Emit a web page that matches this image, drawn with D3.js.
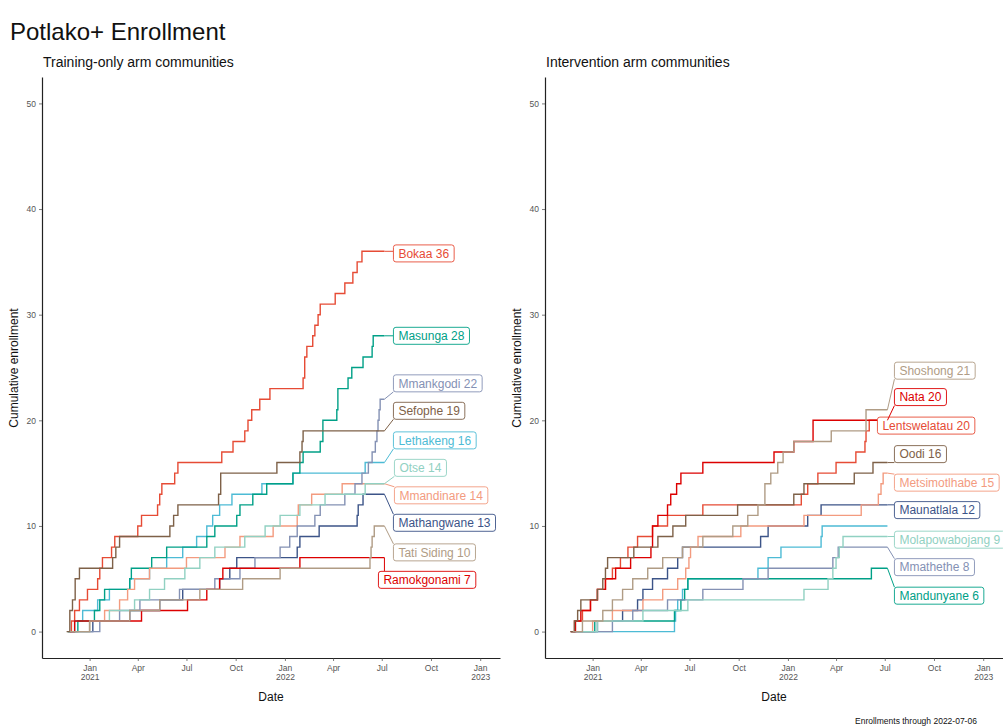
<!DOCTYPE html>
<html><head><meta charset="utf-8">
<script src="https://cdn.jsdelivr.net/npm/d3@7"></script>
<style>
body{margin:0;background:#fff;}
svg{display:block;font-family:"Liberation Sans",Arial,Helvetica,sans-serif;}
</style>
</head><body>
<svg id="chart" width="1003" height="727"></svg>
<script>
// ---------------- DATA ----------------
const dataEnd = "2022-07-06";
const npgPalette = ["#E64B35","#4DBBD5","#00A087","#3C5488","#F39B7F","#8491B4","#91D1C2","#DC0000","#7E6148","#B09C85"];
const yTicks = [0,10,20,30,40,50];
const xTicks = ["2021-01-01","2021-04-01","2021-07-01","2021-10-01","2022-01-01","2022-04-01","2022-07-01","2022-10-01","2023-01-01"];
const xTickLabels = [["Jan","2021"],["Apr"],["Jul"],["Oct"],["Jan","2022"],["Apr"],["Jul"],["Oct"],["Jan","2023"]];

// Training-only arm: [date, cumulative enrollment]
const trainingNames = ["Bokaa","Lethakeng","Masunga","Mathangwane","Mmandinare","Mmankgodi","Otse","Ramokgonami","Sefophe","Tati Siding"];
const bokaa = [["2020-11-21",0],["2020-11-28",1],["2020-12-04",2],["2020-12-13",3],["2020-12-28",4],["2021-01-16",5],["2021-01-20",6],["2021-01-25",7],["2021-02-11",8],["2021-02-17",9],["2021-04-01",10],["2021-04-08",11],["2021-05-08",12],["2021-05-12",13],["2021-05-16",14],["2021-06-09",15],["2021-06-15",16],["2021-09-05",17],["2021-09-26",18],["2021-10-18",19],["2021-10-24",20],["2021-10-31",21],["2021-11-15",22],["2021-12-04",23],["2022-02-04",24],["2022-02-07",26],["2022-02-11",27],["2022-02-22",28],["2022-02-26",29],["2022-03-04",30],["2022-03-08",31],["2022-04-05",32],["2022-04-23",33],["2022-05-08",34],["2022-05-16",35],["2022-05-25",36]];
const lethakeng = [["2020-11-21",0],["2020-12-04",1],["2020-12-19",2],["2021-01-16",3],["2021-02-07",4],["2021-03-17",5],["2021-04-23",6],["2021-05-25",7],["2021-06-24",8],["2021-07-20",9],["2021-08-08",10],["2021-08-19",11],["2021-09-01",12],["2021-09-24",13],["2021-11-19",14],["2022-01-16",15],["2022-05-31",16]];
const masunga = [["2020-11-21",0],["2020-12-10",1],["2021-01-10",2],["2021-01-20",3],["2021-01-29",4],["2021-03-17",5],["2021-03-20",6],["2021-04-27",7],["2021-05-25",8],["2021-08-08",9],["2021-08-23",10],["2021-10-03",11],["2021-10-09",12],["2021-11-02",13],["2021-11-28",14],["2022-01-16",15],["2022-01-29",16],["2022-02-04",17],["2022-03-08",18],["2022-03-13",20],["2022-04-08",21],["2022-04-10",23],["2022-04-29",24],["2022-05-06",25],["2022-05-27",26],["2022-06-13",27],["2022-06-15",28]];
const mathangwane = [["2020-11-25",0],["2021-01-07",1],["2021-03-17",2],["2021-05-12",3],["2021-06-24",4],["2021-09-01",5],["2021-09-20",6],["2021-10-03",7],["2022-01-24",8],["2022-01-29",9],["2022-03-06",10],["2022-05-16",11],["2022-05-18",12],["2022-05-27",13]];
const mmandinare = [["2020-11-25",0],["2021-01-01",1],["2021-01-29",2],["2021-02-26",3],["2021-03-13",4],["2021-03-26",5],["2021-04-23",6],["2021-07-01",7],["2021-09-11",8],["2021-10-09",9],["2021-12-10",10],["2022-01-24",11],["2022-01-26",12],["2022-02-20",13],["2022-04-18",14]];
const mmankgodi = [["2020-11-28",0],["2021-01-20",1],["2021-02-26",2],["2021-04-05",3],["2021-06-18",4],["2021-08-23",5],["2021-10-09",6],["2021-11-06",7],["2021-12-23",8],["2022-01-10",9],["2022-01-24",10],["2022-02-26",11],["2022-03-08",12],["2022-04-23",13],["2022-05-12",14],["2022-05-25",15],["2022-06-06",16],["2022-06-13",17],["2022-06-19",18],["2022-06-22",19],["2022-06-24",20],["2022-06-26",21],["2022-06-28",22]];
const otse = [["2020-12-04",0],["2021-01-01",1],["2021-02-07",2],["2021-03-26",3],["2021-04-23",4],["2021-05-21",5],["2021-06-28",6],["2021-07-26",7],["2021-08-23",8],["2021-10-18",9],["2021-11-25",10],["2021-12-23",11],["2022-01-29",12],["2022-03-17",13],["2022-05-31",14]];
const ramokgonami = [["2020-11-25",0],["2020-12-04",1],["2021-04-08",2],["2021-07-03",3],["2021-08-08",4],["2021-09-01",5],["2021-09-07",6],["2022-01-29",7]];
const sefophe = [["2020-11-19",0],["2020-11-25",2],["2020-11-30",3],["2020-12-05",5],["2020-12-13",6],["2021-02-13",7],["2021-02-19",8],["2021-02-26",9],["2021-05-31",10],["2021-06-07",11],["2021-06-15",12],["2021-08-30",13],["2021-09-03",15],["2021-12-17",16],["2022-01-29",17],["2022-02-02",18],["2022-02-04",19]];
const tatiSiding = [["2020-11-25",0],["2021-01-01",1],["2021-03-17",2],["2021-05-12",3],["2021-07-26",4],["2021-10-14",5],["2021-12-23",6],["2022-06-09",7],["2022-06-11",8],["2022-06-13",9],["2022-06-17",10]];
const trainingSeries = [bokaa,lethakeng,masunga,mathangwane,mmandinare,mmankgodi,otse,ramokgonami,sefophe,tatiSiding];

// Intervention arm
const interventionNames = ["Lentswelatau","Lerala","Mandunyane","Maunatlala","Metsimotlhabe","Mmathethe","Molapowabojang","Nata","Oodi","Shoshong"];
const lentswelatau = [["2020-11-21",0],["2020-11-28",1],["2020-12-13",2],["2020-12-28",3],["2021-01-10",4],["2021-01-25",5],["2021-02-07",6],["2021-02-22",7],["2021-03-08",8],["2021-03-26",9],["2021-04-23",10],["2021-05-21",11],["2021-07-26",12],["2022-01-26",13],["2022-02-07",14],["2022-02-26",15],["2022-04-01",16],["2022-05-08",17],["2022-05-25",18],["2022-05-27",19],["2022-06-02",20]];
const lerala = [["2020-12-04",0],["2021-06-03",1],["2021-06-05",2],["2021-06-09",3],["2021-06-18",4],["2021-06-28",5],["2021-11-06",6],["2021-11-25",7],["2021-12-19",8],["2022-03-04",9],["2022-03-06",10]];
const mandunyane = [["2020-11-21",0],["2021-01-05",1],["2021-06-03",2],["2021-06-15",3],["2021-06-22",4],["2021-06-28",5],["2022-06-06",6]];
const maunatlala = [["2020-11-25",0],["2021-01-10",1],["2021-02-26",2],["2021-03-26",3],["2021-04-05",4],["2021-04-23",5],["2021-05-21",6],["2021-06-09",7],["2021-06-18",8],["2021-11-11",9],["2021-11-25",10],["2022-02-07",11],["2022-03-04",12]];
const metsimotlhabe = [["2020-11-28",0],["2021-01-01",1],["2021-02-07",2],["2021-04-05",3],["2021-05-12",4],["2021-06-09",5],["2021-06-24",6],["2021-06-30",7],["2021-07-03",8],["2021-07-17",9],["2021-10-05",10],["2022-01-31",11],["2022-05-18",12],["2022-06-19",13],["2022-06-24",14],["2022-06-28",15]];
const mmathethe = [["2020-11-25",0],["2021-02-07",1],["2021-03-17",2],["2021-05-21",3],["2021-07-26",4],["2021-10-09",5],["2021-11-25",6],["2022-03-26",7],["2022-04-05",8]];
const molapowabojang = [["2020-12-04",0],["2021-01-10",1],["2021-04-05",2],["2021-06-28",3],["2022-01-31",4],["2022-03-17",5],["2022-03-26",6],["2022-04-01",7],["2022-04-07",8],["2022-04-14",9]];
const nata = [["2020-11-21",0],["2020-11-30",1],["2020-12-10",2],["2020-12-28",3],["2021-01-10",4],["2021-01-25",5],["2021-02-13",6],["2021-03-13",7],["2021-04-20",8],["2021-04-23",10],["2021-05-03",11],["2021-05-21",12],["2021-05-27",13],["2021-06-07",14],["2021-06-15",15],["2021-07-26",16],["2021-12-06",17],["2022-01-12",18],["2022-02-17",20]];
const oodi = [["2020-11-21",0],["2020-11-28",1],["2020-12-04",2],["2020-12-10",3],["2021-01-10",4],["2021-01-20",5],["2021-01-25",6],["2021-01-29",7],["2021-03-19",8],["2021-05-03",9],["2021-05-31",10],["2021-06-24",11],["2021-09-29",12],["2022-01-12",13],["2022-01-31",14],["2022-05-05",15],["2022-06-09",16]];
const shoshong = [["2020-11-25",0],["2020-12-13",1],["2021-01-20",2],["2021-02-07",3],["2021-02-26",4],["2021-03-17",5],["2021-04-14",6],["2021-05-12",7],["2021-06-18",8],["2021-07-26",9],["2021-09-20",10],["2021-10-18",11],["2021-11-06",12],["2021-11-19",14],["2021-11-30",15],["2021-12-13",16],["2021-12-23",17],["2022-01-12",18],["2022-03-23",19],["2022-05-27",21]];
const interventionSeries = [lentswelatau,lerala,mandunyane,maunatlala,metsimotlhabe,mmathethe,molapowabojang,nata,oodi,shoshong];

// repelled label placement (data units on y; pixel nudge from last point on x); null = label dropped
const trainingLabelY = [35.8,18.1,28.0,10.3,12.9,23.5,15.5,4.9,20.9,7.5];
const trainingLabelDx = [9,9,9,9,10,9,10,-6,9,9];
const interventionLabelY = [19.5,null,3.4,11.5,14.1,6.1,8.7,22.2,16.8,24.7];
const interventionLabelDx = [-10,7,7,7,7,7,7,7,7,7];

// ---------------- DRAW ----------------
const parse = d3.timeParse("%Y-%m-%d");
const svg = d3.select("#chart");
const panelW = 458;
const y = d3.scaleLinear().domain([-2.5,52.5]).range([658,77]);

svg.append("text").attr("x",10).attr("y",40).attr("font-size",24).attr("fill","#111").text("Potlako+ Enrollment");

const panels = [
  {title:"Training-only arm communities", names:trainingNames, series:trainingSeries, labelY:trainingLabelY, labelDx:trainingLabelDx, left:42},
  {title:"Intervention arm communities", names:interventionNames, series:interventionSeries, labelY:interventionLabelY, labelDx:interventionLabelDx, left:545}
];

panels.forEach(p => {
  const x = d3.scaleTime().domain([parse("2020-10-04"), parse("2023-02-07")]).range([p.left, p.left+panelW]);
  const g = svg.append("g");

  g.append("text").attr("x",p.left+1).attr("y",67).attr("font-size",14).attr("fill","#111").text(p.title);

  const ya = g.append("g").attr("transform",`translate(${p.left},0)`)
    .call(d3.axisLeft(y).tickValues(yTicks).tickSize(3).tickSizeOuter(0).tickPadding(3));
  const xa = g.append("g").attr("transform",`translate(0,658)`)
    .call(d3.axisBottom(x).tickValues(xTicks.map(parse)).tickSize(3).tickSizeOuter(0).tickPadding(4).tickFormat(""));
  xa.selectAll(".tick text").each(function(d,i){
    const t = d3.select(this);
    xTickLabels[i].forEach((s,j)=>{
      t.append("tspan").attr("x",0).attr("dy", j===0 ? "0.71em" : "1.05em").text(s);
    });
  });
  [ya,xa].forEach(a=>{
    a.select(".domain").attr("stroke","#222").attr("stroke-width",1.2);
    a.selectAll(".tick line").attr("stroke","#444").attr("stroke-width",0.7);
    a.selectAll(".tick text").attr("fill","#555").attr("font-size",8.5).attr("font-family","Liberation Sans, Arial, sans-serif");
  });

  g.append("text").attr("transform",`translate(${p.left-24},368) rotate(-90)`).attr("text-anchor","middle")
    .attr("font-size",12).attr("fill","#111").text("Cumulative enrollment");
  g.append("text").attr("x",p.left+panelW/2).attr("y",701).attr("text-anchor","middle")
    .attr("font-size",12).attr("fill","#111").text("Date");

  const line = d3.line().curve(d3.curveStepAfter).x(d=>x(parse(d[0]))).y(d=>y(d[1]));
  const endDate = parse(dataEnd);

  p.series.forEach((s,i)=>{
    const pts = s.concat([[dataEnd, s[s.length-1][1]]]);
    g.append("path").attr("d",line(pts)).attr("fill","none")
      .attr("stroke",npgPalette[i]).attr("stroke-width",1.4);
  });

  p.series.forEach((s,i)=>{
    if (p.labelY[i] === null) return;
    const last = s[s.length-1][1];
    const ex = x(endDate), ey = y(last);
    const bx = ex + p.labelDx[i];
    const cy = y(p.labelY[i]);
    const lg = g.append("g");
    const txt = lg.append("text").attr("x",bx+5).attr("y",cy).attr("dy","0.35em")
      .attr("font-size",12).attr("fill",npgPalette[i]).text(`${p.names[i]} ${last}`);
    const tw = txt.node().getComputedTextLength();
    const bw = tw+10, bh = 17;
    const by = cy - bh/2;
    const nx = Math.max(bx, Math.min(ex, bx+bw));
    const ny = Math.max(by, Math.min(ey, by+bh));
    lg.insert("line","text").attr("x1",ex).attr("y1",ey).attr("x2",nx).attr("y2",ny)
      .attr("stroke",npgPalette[i]).attr("stroke-width",1);
    lg.insert("rect","text").attr("x",bx).attr("y",by).attr("width",bw).attr("height",bh)
      .attr("rx",2.5).attr("fill","#fff").attr("stroke",npgPalette[i]).attr("stroke-width",0.9);
  });
});

svg.append("text").attr("x",855).attr("y",724).attr("font-size",8.5).attr("fill","#111").text("Enrollments through 2022-07-06");
</script>
</body></html>
